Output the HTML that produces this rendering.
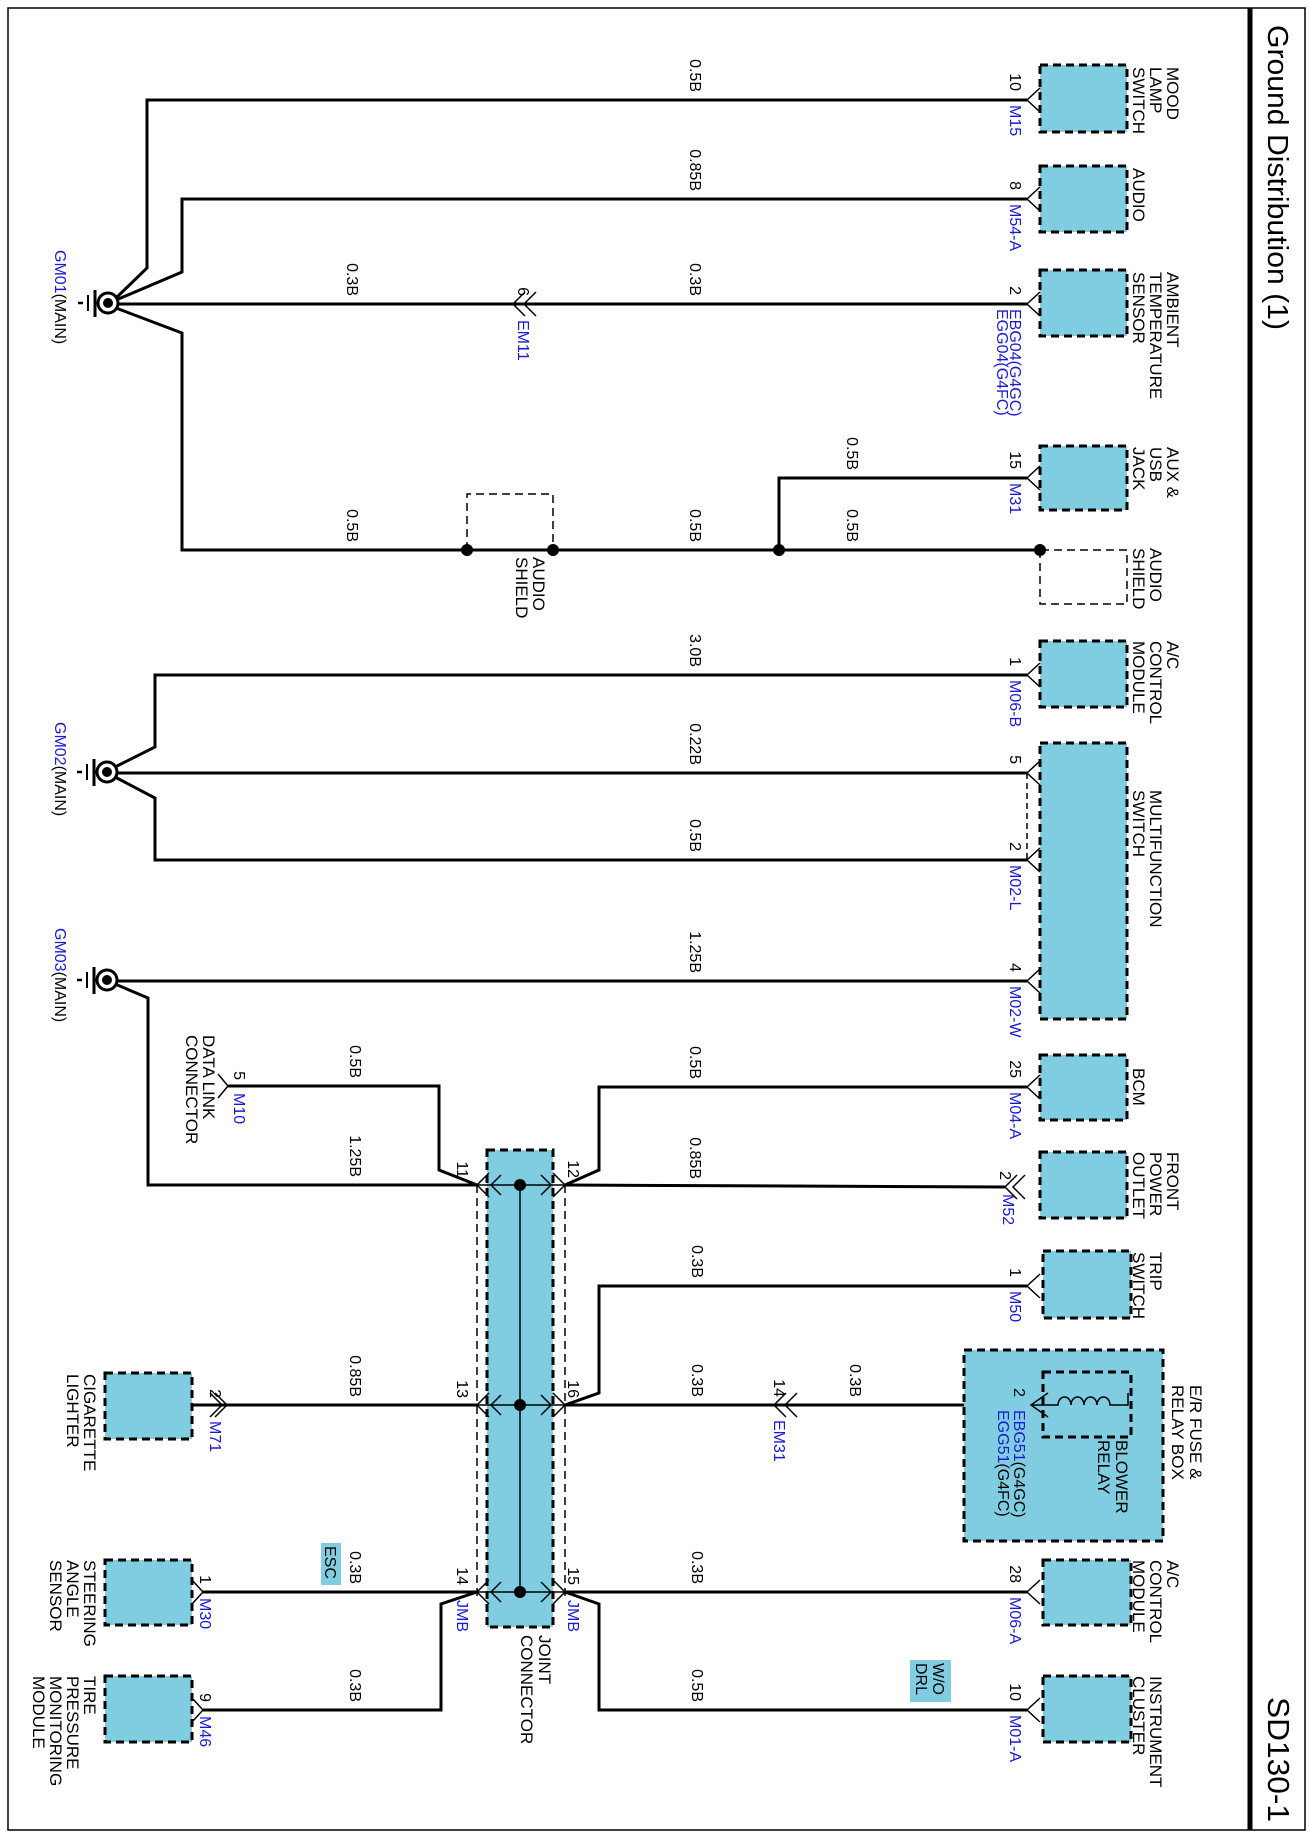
<!DOCTYPE html>
<html><head><meta charset="utf-8"><style>
html,body{margin:0;padding:0;background:#fff;}
svg{display:block;font-family:"Liberation Sans",Arial,sans-serif;}
.w{fill:none;stroke:#000;stroke-width:3;}
.t{fill:none;stroke:#000;stroke-width:1.5;}
.bx{fill:#80cde1;stroke:#000;stroke-width:3;stroke-dasharray:8,5;}
.db{fill:none;stroke:#000;stroke-width:1.5;stroke-dasharray:8,5;}
.lb{font-size:17px;fill:#000;}
.g{font-size:16px;fill:#000;}
.p{font-size:16px;fill:#000;}
.b{font-size:16px;fill:#1a1ad0;}
</style></head><body>
<svg width="1310" height="1838" viewBox="0 0 1310 1838" xmlns="http://www.w3.org/2000/svg">
<rect x="0" y="0" width="1310" height="1838" fill="#fff"/>
<rect x="8" y="8" width="1297" height="1822" fill="none" stroke="#000" stroke-width="1.5"/>
<line x1="1250" y1="8" x2="1250" y2="1830" stroke="#000" stroke-width="5"/>
<text transform="translate(1268,25) rotate(90)" font-size="29" textLength="305" lengthAdjust="spacingAndGlyphs">Ground Distribution (1)</text>
<text transform="translate(1268,1697) rotate(90)" font-size="31" textLength="125" lengthAdjust="spacingAndGlyphs">SD130-1</text>

<g id="gnd">
<circle cx="108" cy="303" r="10" fill="#fff" stroke="#000" stroke-width="3"/><circle cx="108" cy="303" r="5" fill="#000"/>
<line x1="95" y1="290" x2="95" y2="317" stroke="#000" stroke-width="3"/><line x1="88" y1="295" x2="88" y2="311" stroke="#000" stroke-width="2"/><line x1="78" y1="303" x2="83" y2="303" stroke="#000" stroke-width="2.5"/>
</g>
<use href="#gnd" transform="translate(-1,469)"/>
<use href="#gnd" transform="translate(-1,677)"/>
<text transform="translate(55,250) rotate(90)" class="p"><tspan fill="#1a1ad0">GM01</tspan>(MAIN)</text>
<text transform="translate(55,722) rotate(90)" class="p"><tspan fill="#1a1ad0">GM02</tspan>(MAIN)</text>
<text transform="translate(55,928) rotate(90)" class="p"><tspan fill="#1a1ad0">GM03</tspan>(MAIN)</text>

<polyline class="w" points="116,298 147,268 147,100 1027,100"/>
<polyline class="w" points="116,300 182,272 182,199 1027,199"/>
<polyline class="w" points="118,304 1027,304"/>
<polyline class="w" points="116,308 182,333 182,550 1040,550"/>
<polyline class="w" points="779,550 779,478 1027,478"/>
<polyline class="w" points="115,767 155,747 155,675 1027,675"/>
<polyline class="w" points="118,773 1027,773"/>
<polyline class="w" points="115,777 155,798 155,860 1027,860"/>
<polyline class="w" points="118,981 1027,981"/>
<polyline class="w" points="115,984 148,998 148,1185 477,1185"/>
<polyline class="w" points="228,1086 439,1086 439,1170 477,1185"/>
<polyline class="w" points="565,1185 1005,1187"/>
<polyline class="w" points="565,1185 599,1170 599,1087 1027,1087"/>
<polyline class="w" points="565,1405 599,1393 599,1286 1027,1286"/>
<polyline class="w" points="565,1405 964,1405"/>
<line x1="964" y1="1405" x2="1031" y2="1405" stroke="#000" stroke-width="1.5"/>
<polyline class="w" points="192,1405 477,1405"/>
<polyline class="w" points="203,1592 477,1592"/>
<polyline class="w" points="477,1592 441,1604 441,1710 203,1710"/>
<polyline class="w" points="565,1592 1027,1592"/>
<polyline class="w" points="565,1592 599,1604 599,1710 1027,1710"/>

<polyline class="db" points="467,550 467,494 553,494 553,550 467,550"/>
<circle cx="467" cy="550" r="6"/><circle cx="553" cy="550" r="6"/><circle cx="779" cy="550" r="6"/><circle cx="1040" cy="550" r="6"/>
<polyline class="db" points="1040,550 1040,604 1127,604 1127,550 1040,550"/>
<text transform="translate(533,557) rotate(90)" class="lb"><tspan x="0">AUDIO</tspan><tspan x="0" dy="17">SHIELD</tspan></text>

<rect class="bx" x="1040" y="65" width="87" height="67"/>
<rect class="bx" x="1040" y="166" width="87" height="66"/>
<rect class="bx" x="1040" y="270" width="87" height="66"/>
<rect class="bx" x="1040" y="446" width="87" height="64"/>
<rect class="bx" x="1040" y="641" width="87" height="66"/>
<rect class="bx" x="1040" y="743" width="87" height="276"/>
<rect class="bx" x="1040" y="1055" width="87" height="65"/>
<rect class="bx" x="1040" y="1152" width="87" height="66"/>
<rect class="bx" x="1043" y="1251" width="88" height="67"/>
<rect class="bx" x="964" y="1350" width="199" height="191"/>
<rect x="1043" y="1372" width="88" height="65" fill="#80cde1" stroke="#000" stroke-width="3" stroke-dasharray="8,5"/>
<rect class="bx" x="1043" y="1560" width="88" height="65"/>
<rect class="bx" x="1043" y="1676" width="88" height="66"/>

<g class="t">
<polyline points="1040,88 1027,100 1040,112"/>
<polyline points="1040,187 1027,199 1040,211"/>
<polyline points="1040,292 1027,304 1040,316"/>
<polyline points="1040,466 1027,478 1040,490"/>
<polyline points="1040,663 1027,675 1040,687"/>
<polyline points="1040,761 1027,773 1040,785"/>
<polyline points="1040,848 1027,860 1040,872"/>
<polyline points="1040,969 1027,981 1040,993"/>
<polyline points="1040,1075 1027,1087 1040,1099"/>
<polyline points="1017,1175 1005,1187 1017,1199"/>
<polyline points="1025,1175 1013,1187 1025,1199"/>
<polyline points="1040,1274 1027,1286 1040,1298"/>
<polyline points="1048,1393 1031,1405 1048,1417"/>
<polyline points="1040,1580 1027,1592 1040,1604"/>
<polyline points="1040,1698 1027,1710 1040,1722"/>
<polyline points="525,292 513,304 525,316"/>
<polyline points="536,292 524,304 536,316"/>
<polyline points="786,1393 774,1405 786,1417"/>
<polyline points="797,1393 785,1405 797,1417"/>
<polyline points="210,1393 222,1405 210,1417"/>
<polyline points="215,1393 227,1405 215,1417"/>
<polyline points="192,1580 203,1592 192,1604"/>
<polyline points="192,1698 203,1710 192,1722"/>
<polyline points="218,1074 228,1086 218,1098"/>
</g>
<line x1="1027" y1="773" x2="1027" y2="860" stroke="#000" stroke-width="1.5" stroke-dasharray="6,4"/>
<path d="M1031,1405 H1058 a6.5,8 0 0 1 13,0 a6.5,8 0 0 1 13,0 a6.5,8 0 0 1 13,0 a6.5,8 0 0 1 13,0 H1128 V1393" fill="none" stroke="#000" stroke-width="1.5"/>

<rect class="bx" x="487" y="1150" width="66" height="477"/>
<line x1="477" y1="1185" x2="477" y2="1600" stroke="#000" stroke-width="1.5" stroke-dasharray="8,5"/>
<line x1="565" y1="1185" x2="565" y2="1600" stroke="#000" stroke-width="1.5" stroke-dasharray="8,5"/>
<line x1="520" y1="1185" x2="520" y2="1592" stroke="#000" stroke-width="1.5"/>
<g class="t">
<line x1="477" y1="1185" x2="565" y2="1185"/><line x1="477" y1="1405" x2="565" y2="1405"/><line x1="477" y1="1592" x2="565" y2="1592"/>
<polyline points="489,1173 477,1185 489,1197"/><polyline points="501,1175 491,1185 501,1195"/><polyline points="553,1173 565,1185 553,1197"/><polyline points="541,1175 551,1185 541,1195"/>
<polyline points="489,1393 477,1405 489,1417"/><polyline points="501,1395 491,1405 501,1415"/><polyline points="553,1393 565,1405 553,1417"/><polyline points="541,1395 551,1405 541,1415"/>
<polyline points="489,1580 477,1592 489,1604"/><polyline points="501,1582 491,1592 501,1602"/><polyline points="553,1580 565,1592 553,1604"/><polyline points="541,1582 551,1592 541,1602"/>
</g>
<circle cx="520" cy="1185" r="6"/><circle cx="520" cy="1405" r="6"/><circle cx="520" cy="1592" r="6"/>
<text transform="translate(539,1635) rotate(90)" class="lb"><tspan x="0">JOINT</tspan><tspan x="0" dy="18">CONNECTOR</tspan></text>
<g class="p" text-anchor="end">
<text transform="translate(457,1178) rotate(90)">11</text>
<text transform="translate(568,1178) rotate(90)">12</text>
<text transform="translate(457,1398) rotate(90)">13</text>
<text transform="translate(568,1398) rotate(90)">16</text>
<text transform="translate(457,1585) rotate(90)">14</text>
<text transform="translate(568,1585) rotate(90)">15</text>
</g>
<text transform="translate(457,1600) rotate(90)" class="b">JMB</text>
<text transform="translate(568,1600) rotate(90)" class="b">JMB</text>

<rect class="bx" x="105" y="1373" width="87" height="66"/>
<rect class="bx" x="105" y="1560" width="87" height="65"/>
<rect class="bx" x="105" y="1676" width="87" height="66"/>

<g class="g" text-anchor="end">
<text transform="translate(690,92) rotate(90)">0.5B</text>
<text transform="translate(690,191) rotate(90)">0.85B</text>
<text transform="translate(690,296) rotate(90)">0.3B</text>
<text transform="translate(347,296) rotate(90)">0.3B</text>
<text transform="translate(847,470) rotate(90)">0.5B</text>
<text transform="translate(847,542) rotate(90)">0.5B</text>
<text transform="translate(690,542) rotate(90)">0.5B</text>
<text transform="translate(347,542) rotate(90)">0.5B</text>
<text transform="translate(690,667) rotate(90)">3.0B</text>
<text transform="translate(690,765) rotate(90)">0.22B</text>
<text transform="translate(690,852) rotate(90)">0.5B</text>
<text transform="translate(690,973) rotate(90)">1.25B</text>
<text transform="translate(350,1078) rotate(90)">0.5B</text>
<text transform="translate(690,1079) rotate(90)">0.5B</text>
<text transform="translate(350,1177) rotate(90)">1.25B</text>
<text transform="translate(690,1179) rotate(90)">0.85B</text>
<text transform="translate(692,1278) rotate(90)">0.3B</text>
<text transform="translate(692,1397) rotate(90)">0.3B</text>
<text transform="translate(850,1397) rotate(90)">0.3B</text>
<text transform="translate(350,1397) rotate(90)">0.85B</text>
<text transform="translate(350,1584) rotate(90)">0.3B</text>
<text transform="translate(692,1584) rotate(90)">0.3B</text>
<text transform="translate(350,1702) rotate(90)">0.3B</text>
<text transform="translate(692,1702) rotate(90)">0.5B</text>
</g>

<g class="p" text-anchor="end">
<text transform="translate(1010,91) rotate(90)">10</text>
<text transform="translate(1010,190) rotate(90)">8</text>
<text transform="translate(1010,295) rotate(90)">2</text>
<text transform="translate(1010,469) rotate(90)">15</text>
<text transform="translate(1010,666) rotate(90)">1</text>
<text transform="translate(1010,764) rotate(90)">5</text>
<text transform="translate(1010,851) rotate(90)">2</text>
<text transform="translate(1010,972) rotate(90)">4</text>
<text transform="translate(1010,1078) rotate(90)">25</text>
<text transform="translate(1000,1180) rotate(90)">2</text>
<text transform="translate(1010,1277) rotate(90)">1</text>
<text transform="translate(1014,1397) rotate(90)">2</text>
<text transform="translate(1010,1583) rotate(90)">28</text>
<text transform="translate(1010,1701) rotate(90)">10</text>
<text transform="translate(518,296) rotate(90)">6</text>
<text transform="translate(774,1397) rotate(90)">14</text>
<text transform="translate(210,1398) rotate(90)">2</text>
<text transform="translate(200,1584) rotate(90)">1</text>
<text transform="translate(200,1702) rotate(90)">9</text>
<text transform="translate(234,1080) rotate(90)">5</text>
</g>
<g class="b">
<text transform="translate(1010,105) rotate(90)">M15</text>
<text transform="translate(1010,204) rotate(90)">M54-A</text>
<text transform="translate(1010,309) rotate(90)">EBG04(G4GC)</text>
<text transform="translate(997,309) rotate(90)">EGG04(G4FC)</text>
<text transform="translate(1010,483) rotate(90)">M31</text>
<text transform="translate(1010,680) rotate(90)">M06-B</text>
<text transform="translate(1010,865) rotate(90)">M02-L</text>
<text transform="translate(1010,986) rotate(90)">M02-W</text>
<text transform="translate(1010,1092) rotate(90)">M04-A</text>
<text transform="translate(1003,1194) rotate(90)">M52</text>
<text transform="translate(1010,1291) rotate(90)">M50</text>
<text transform="translate(1014,1410) rotate(90)">EBG51<tspan fill="#000">(G4GC)</tspan></text>
<text transform="translate(998,1410) rotate(90)">EGG51<tspan fill="#000">(G4FC)</tspan></text>
<text transform="translate(1010,1597) rotate(90)">M06-A</text>
<text transform="translate(1010,1715) rotate(90)">M01-A</text>
<text transform="translate(518,320) rotate(90)">EM11</text>
<text transform="translate(774,1420) rotate(90)">EM31</text>
<text transform="translate(210,1421) rotate(90)">M71</text>
<text transform="translate(200,1598) rotate(90)">M30</text>
<text transform="translate(200,1716) rotate(90)">M46</text>
<text transform="translate(234,1093) rotate(90)">M10</text>
</g>

<g class="lb">
<text transform="translate(1167,67) rotate(90)"><tspan x="0">MOOD</tspan><tspan x="0" dy="17">LAMP</tspan><tspan x="0" dy="17">SWITCH</tspan></text>
<text transform="translate(1133,168) rotate(90)">AUDIO</text>
<text transform="translate(1167,272) rotate(90)"><tspan x="0">AMBIENT</tspan><tspan x="0" dy="17">TEMPERATURE</tspan><tspan x="0" dy="17">SENSOR</tspan></text>
<text transform="translate(1167,447) rotate(90)"><tspan x="0">AUX &amp;</tspan><tspan x="0" dy="17">USB</tspan><tspan x="0" dy="17">JACK</tspan></text>
<text transform="translate(1150,548) rotate(90)"><tspan x="0">AUDIO</tspan><tspan x="0" dy="17">SHIELD</tspan></text>
<text transform="translate(1167,641) rotate(90)"><tspan x="0">A/C</tspan><tspan x="0" dy="17">CONTROL</tspan><tspan x="0" dy="17">MODULE</tspan></text>
<text transform="translate(1150,790) rotate(90)"><tspan x="0">MULTIFUNCTION</tspan><tspan x="0" dy="17">SWITCH</tspan></text>
<text transform="translate(1133,1068) rotate(90)">BCM</text>
<text transform="translate(1167,1152) rotate(90)"><tspan x="0">FRONT</tspan><tspan x="0" dy="17">POWER</tspan><tspan x="0" dy="17">OUTLET</tspan></text>
<text transform="translate(1150,1252) rotate(90)"><tspan x="0">TRIP</tspan><tspan x="0" dy="17">SWITCH</tspan></text>
<text transform="translate(1190,1385) rotate(90)"><tspan x="0">E/R FUSE &amp;</tspan><tspan x="0" dy="18">RELAY BOX</tspan></text>
<text transform="translate(1116,1440) rotate(90)"><tspan x="0">BLOWER</tspan><tspan x="0" dy="18">RELAY</tspan></text>
<text transform="translate(1167,1560) rotate(90)"><tspan x="0">A/C</tspan><tspan x="0" dy="17">CONTROL</tspan><tspan x="0" dy="17">MODULE</tspan></text>
<text transform="translate(1150,1676) rotate(90)"><tspan x="0">INSTRUMENT</tspan><tspan x="0" dy="17">CLUSTER</tspan></text>
<text transform="translate(84,1374) rotate(90)"><tspan x="0">CIGARETTE</tspan><tspan x="0" dy="17">LIGHTER</tspan></text>
<text transform="translate(84,1560) rotate(90)"><tspan x="0">STEERING</tspan><tspan x="0" dy="17">ANGLE</tspan><tspan x="0" dy="17">SENSOR</tspan></text>
<text transform="translate(84,1676) rotate(90)"><tspan x="0">TIRE</tspan><tspan x="0" dy="17">PRESSURE</tspan><tspan x="0" dy="17">MONITORING</tspan><tspan x="0" dy="17">MODULE</tspan></text>
<text transform="translate(203,1035) rotate(90)"><tspan x="0">DATA LINK</tspan><tspan x="0" dy="17">CONNECTOR</tspan></text>
</g>

<rect x="321" y="1543" width="20" height="42" fill="#80cde1"/>
<text transform="translate(325,1546) rotate(90)" class="p">ESC</text>
<rect x="910" y="1660" width="41" height="42" fill="#80cde1"/>
<text transform="translate(933,1663) rotate(90)" class="p"><tspan x="0">W/O</tspan><tspan x="0" dy="17">DRL</tspan></text>
</svg>
</body></html>
